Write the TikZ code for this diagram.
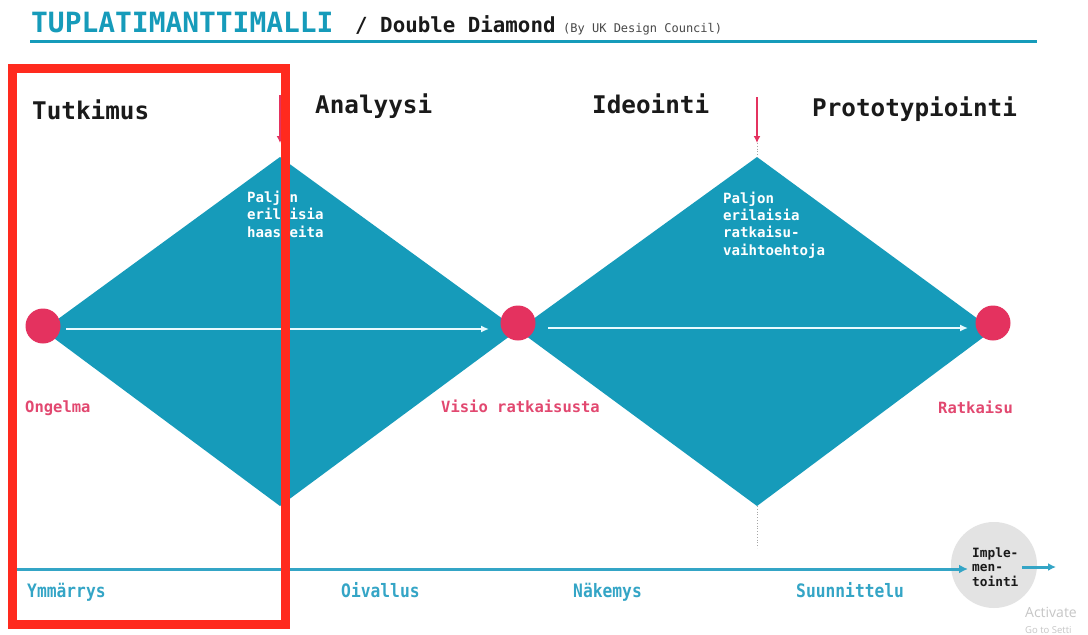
\documentclass[tikz,border=0pt]{standalone}
\usepackage{fontspec}
\setmonofont{DejaVu Sans Mono}
\newfontfamily\narrowmono[FakeStretch=0.88]{DejaVu Sans Mono}
\newfontfamily\uisans{Open Sans}
\usetikzlibrary{arrows.meta}

\definecolor{ddteal}{RGB}{22,155,186}
\definecolor{ddline}{RGB}{52,165,198}
\definecolor{ddpink}{RGB}{228,50,95}
\definecolor{ddlabel}{RGB}{226,72,112}
\definecolor{ddink}{RGB}{26,26,26}
\definecolor{ddgrey}{RGB}{227,227,227}
\definecolor{ddarrow}{RGB}{232,250,255}
\definecolor{ddframe}{RGB}{255,42,30}

\tikzset{
  mono/.style={font=#1, inner sep=0pt, anchor=base west},
  heading/.style={inner sep=0pt, anchor=base west, text=ddink,
    font=\ttfamily\bfseries\fontsize{24.3}{29}\selectfont},
  % multi-line nodes: the base anchor sits on the last line
  inner/.style={inner sep=0pt, anchor=base west, align=left, text=white,
    font=\ttfamily\bfseries\fontsize{14.1}{17.3}\selectfont},
  pinklabel/.style={inner sep=0pt, anchor=base west, text=ddlabel,
    font=\ttfamily\bfseries\fontsize{15.5}{18}\selectfont},
  phase/.style={inner sep=0pt, anchor=base west, text=ddline,
    font=\narrowmono\bfseries\fontsize{18.5}{22}\selectfont},
  dot/.style={circle, fill=ddpink, minimum size=35pt, inner sep=0pt},
  flow/.style={draw=ddarrow, line width=2pt, -{Latex[length=8pt,width=7pt]}},
  drop/.style={draw=ddpink, line width=2pt, -{Latex[length=7pt,width=7pt]}},
  guide/.style={draw=gray!70, line width=0.8pt, dotted},
  timeline/.style={draw=ddline, line width=3pt, -{Latex[length=9pt,width=9pt]}},
}

\begin{document}
\begin{tikzpicture}[x=1pt,y=-1pt]
\useasboundingbox (0,0) rectangle (1088,635);
\fill[white] (0,0) rectangle (1088,635);

% title bar
\node[mono=\ttfamily\bfseries\fontsize{27.9}{32}\selectfont, text=ddteal] (title) at (31,32.7) {TUPLATIMANTTIMALLI};
\node[mono=\ttfamily\bfseries\fontsize{20.8}{24}\selectfont, text=ddink] (sub) at (355,32.7) {/ Double Diamond};
\node[mono=\ttfamily\fontsize{12}{14}\selectfont, text=ddink!80] (credit) at (563,32.7) {(By UK Design Council)};
\coordinate (ruleL) at (30,41);
\coordinate (ruleR) at (1037,41);
\draw[ddteal, line width=3pt] (ruleL) -- (ruleR);

% phase headings
\node[heading] (h1) at (32,119) {Tutkimus};
\node[heading] (h2) at (315,113) {Analyysi};
\node[heading] (h3) at (592,113) {Ideointi};
\node[heading] (h4) at (812,116) {Prototypiointi};

% the two diamonds
\coordinate (d1l) at (43,330);
\coordinate (d1t) at (280,157);
\coordinate (d1r) at (518,330);
\coordinate (d1b) at (280,506);
\coordinate (d2t) at (757,157);
\coordinate (d2r) at (993,330);
\coordinate (d2b) at (757,506);
\fill[ddteal] (d1l) -- (d1t) -- (d1r) -- (d1b) -- cycle;
\fill[ddteal] (d1r) -- (d2t) -- (d2r) -- (d2b) -- cycle;

% texts inside the diamonds
\node[inner] (t1) at (247,237) {Paljon\\erilaisia\\haasteita};
\node[inner] (t2) at (723,255) {Paljon\\erilaisia\\ratkaisu-\\vaihtoehtoja};

% milestones
\node[dot] (c1) at (43,326) {};
\node[dot] (c2) at (518,323) {};
\node[dot] (c3) at (993,323) {};

\coordinate (f1s) at (66,329);
\coordinate (f1e) at (489,329);
\coordinate (f2s) at (548,328);
\coordinate (f2e) at (968,328);
\draw[flow] (f1s) -- (f1e);
\draw[flow] (f2s) -- (f2e);

\node[pinklabel] (l1) at (25,412) {Ongelma};
\node[pinklabel] (l2) at (441,412) {Visio ratkaisusta};
\node[pinklabel] (l3) at (938,413) {Ratkaisu};

% arrows dropping onto the diamond tips
\coordinate (a1s) at (280,95);
\coordinate (a1e) at (280,143);
\coordinate (a2s) at (757,97);
\coordinate (a2e) at (757,143);
\draw[drop] (a1s) -- (a1e);
\draw[drop] (a2s) -- (a2e);
\draw[guide] (a2e) -- (d2t);
\coordinate (g2e) at (757,548);
\draw[guide] (d2b) -- (g2e);

% timeline
\node[circle, fill=ddgrey, minimum size=86pt, inner sep=0pt] (impl) at (994,565) {};
\node[inner, text=ddink, font=\ttfamily\bfseries\fontsize{12.8}{14.5}\selectfont] (it) at (972,586) {Imple-\\men-\\tointi};
\coordinate (tl0) at (12,569);
\coordinate (tl1) at (968,569);
\draw[timeline] (tl0) -- (tl1);
\coordinate (tl2) at (1022,567);
\coordinate (tl3) at (1056,567);
\draw[draw=ddline, line width=3pt, -{Latex[length=8pt,width=8pt]}] (tl2) -- (tl3);

\node[phase] (p1) at (27,597) {Ymmärrys};
\node[phase] (p2) at (341,597) {Oivallus};
\node[phase] (p3) at (573,597) {Näkemys};
\node[phase] (p4) at (796,597) {Suunnittelu};

% system watermark
\node[inner sep=0pt, anchor=base west, text=gray!45, font=\uisans\fontsize{14}{16}\selectfont] (w1) at (1025,617) {Activate};
\node[inner sep=0pt, anchor=base west, text=gray!45, font=\uisans\fontsize{9.5}{11}\selectfont] (w2) at (1025,633) {Go to Setti};

% highlight frame
\draw[ddframe, line width=9pt] (12.5,68.5) rectangle (285,624.5);
\end{tikzpicture}
\end{document}
